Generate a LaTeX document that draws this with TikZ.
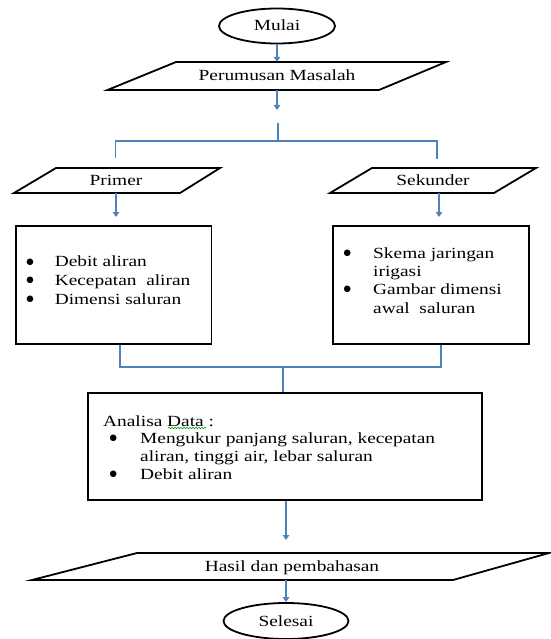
\documentclass[tikz,border=0pt]{standalone}
\usepackage{fontspec}
\setmainfont{Liberation Serif}[FakeStretch=1.25]
\newfontfamily\symfont{DejaVu Sans}
\usetikzlibrary{arrows.meta,shapes.geometric,decorations.pathmorphing}
\definecolor{flowblue}{RGB}{79,129,189}
\begin{document}
\begin{tikzpicture}[x=1pt,y=-1pt,
  outline/.style={draw=black,line width=1.8pt},
  flow/.style={draw=flowblue,line width=1.3pt},
  arr/.style={flow,-{Triangle[width=6.5pt,length=5pt]}},
  txt/.style={font=\fontsize{15.5}{18.5}\selectfont,inner sep=0pt,text height=10pt,text depth=0pt},
  line/.style={txt,anchor=west},
  bul/.style={font=\symfont\fontsize{8.5}{9}\selectfont,inner sep=0pt,text height=6.4pt,text depth=0pt,anchor=center},
  term/.style={outline,ellipse,inner sep=0pt,txt},
  boxnode/.style={outline,inner sep=0pt},
]
\useasboundingbox (0,0) rectangle (550,639);

% Start
\node[term,minimum width=116pt,minimum height=35pt] (mulai) at (277,26) {Mulai};

% Perumusan Masalah
\draw[outline] (176,62) -- (446,62) -- (379,90) -- (107.5,90) -- cycle;
\node[txt,minimum height=28pt] (perum) at (277,76) {Perumusan Masalah};
\draw[arr] (mulai.south) -- (perum.north);
\coordinate (gapend) at (277,110);
\draw[arr] (perum.south) -- (gapend);

% split
\coordinate (jtop) at (278,123);
\coordinate (jmid) at (278,141);
\coordinate (jl) at (115.5,141);
\coordinate (jr) at (437,141);
\coordinate (jlend) at (115.5,158);
\coordinate (jrend) at (437,159);
\draw[flow] (jtop) -- (jmid);
\draw[flow] (jlend) -- (jl) -- (jr) -- (jrend);

% Primer / Sekunder
\draw[outline] (56,168) -- (220,168) -- (180,193) -- (14,193) -- cycle;
\node[txt,minimum height=25pt] (primer) at (116,180.5) {Primer};
\draw[outline] (372,168) -- (536,168) -- (494,193) -- (330,193) -- cycle;
\node[txt,minimum height=25pt] (sek) at (433,180.5) {Sekunder};
\coordinate (pa) at (116,217);
\draw[arr] (primer.south) -- (pa);
\coordinate (sa) at (439,217);
\draw[arr] (sek.south -| sa) -- (sa);

% boxes
\node[boxnode,minimum width=195.5pt,minimum height=118pt] (b1) at (113.75,285) {};
\node[bul] (b1a) at (30,261) {●};
\node[line] (b1at) at (54.6,261.7) {Debit aliran};
\node[bul] (b1b) at (30,279.3) {●};
\node[line] (b1bt) at (54.6,280) {Kecepatan\ \ aliran};
\node[bul] (b1c) at (30,298.3) {●};
\node[line] (b1ct) at (54.6,299) {Dimensi saluran};

\node[boxnode,minimum width=196pt,minimum height=118pt] (b2) at (431,285) {};
\node[bul] (b2a) at (347.3,252.6) {●};
\node[line] (b2at) at (373,253.3) {Skema jaringan};
\node[line] (b2at2) at (373,271) {irigasi};
\node[bul] (b2b) at (347.3,288.6) {●};
\node[line] (b2bt) at (373,289.3) {Gambar dimensi};
\node[line] (b2bt2) at (373,308.3) {awal\ \ saluran};

% merge
\coordinate (m1) at (120,367);
\coordinate (m2) at (441,367);
\coordinate (mc) at (283,367);
\draw[flow] (b1.south -| m1) -- (m1) -- (m2) -- (b2.south -| m2);

% Analisa
\node[boxnode,minimum width=394pt,minimum height=107pt] (an) at (285,446.5) {};
\draw[flow] (mc) -- (an.north -| mc);
\node[line] (ant) at (103,421.7) {Analisa Data :};
\draw[green!60!black,line width=0.6pt,decorate,decoration={snake,amplitude=0.7pt,segment length=3pt}] (168,428) -- (206,428);
\node[bul] (ana) at (113.3,437.6) {●};
\node[line] (anat) at (140,438.3) {Mengukur panjang saluran, kecepatan};
\node[line] (anat2) at (140,456) {aliran, tinggi air, lebar saluran};
\node[bul] (anb) at (113.3,473.3) {●};
\node[line] (anbt) at (140,474) {Debit aliran};

% Hasil
\coordinate (ha) at (286,540);
\draw[arr] (an.south -| ha) -- (ha);
\draw[outline] (137,553) -- (549,553) -- (453,580) -- (32,580) -- cycle;
\node[txt,minimum height=27pt] (hasil) at (292,566.5) {Hasil dan pembahasan};

% End
\node[term,minimum width=125pt,minimum height=36pt] (selesai) at (286,621) {Selesai};
\draw[arr] (hasil.south -| selesai) -- (selesai.north);
\end{tikzpicture}
\end{document}
